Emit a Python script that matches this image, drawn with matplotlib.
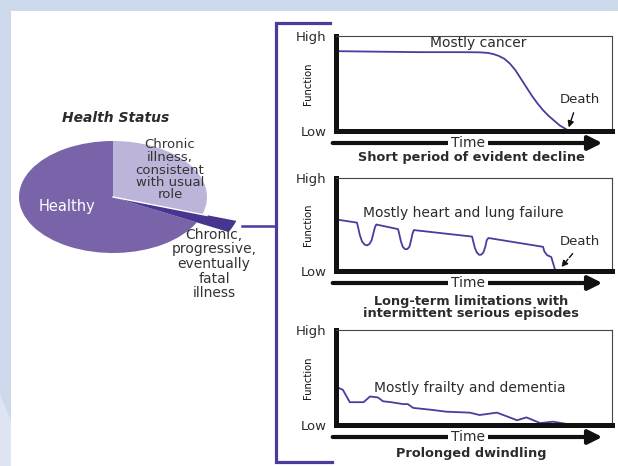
import matplotlib
matplotlib.use("Agg")
import matplotlib.pyplot as plt
from matplotlib.patches import Rectangle, Polygon
from matplotlib.lines import Line2D

W, H = 618, 466

# pie: share of the population by health status
pie_labels = ["Chronic\nillness,\nconsistent\nwith usual\nrole",
              "Chronic,\nprogressive,\neventually\nfatal\nillness",
              "Healthy"]
pie_values = [30.0, 2.5, 67.5]
pie_colors = ["#bdb4da", "#47358f", "#7964aa"]

# trajectory 1: short period of evident decline
cancer_t = [0.01, 0.15, 0.30, 0.45, 0.52, 0.55, 0.57, 0.59, 0.61, 0.63, 0.65, 0.67,
            0.69, 0.71, 0.73, 0.75, 0.77, 0.79, 0.81, 0.83, 0.845]
cancer_f = [0.84, 0.835, 0.83, 0.83, 0.828, 0.822, 0.81, 0.79, 0.76, 0.71, 0.64, 0.55,
            0.46, 0.37, 0.29, 0.22, 0.16, 0.11, 0.06, 0.025, 0.0]

# trajectory 2: long-term limitations with intermittent serious episodes
organ_t = [0.01, 0.076, 0.080, 0.086, 0.094, 0.103, 0.112, 0.121, 0.129, 0.135, 0.141, 0.146,
           0.225, 0.229, 0.235, 0.242, 0.250, 0.258, 0.266, 0.272, 0.277, 0.282,
           0.493, 0.497, 0.503, 0.510, 0.518, 0.526, 0.534, 0.541, 0.546, 0.552,
           0.75, 0.755, 0.765, 0.78, 0.785, 0.795]
organ_f = [0.55, 0.52, 0.47, 0.39, 0.32, 0.285, 0.275, 0.29, 0.33, 0.40, 0.47, 0.50,
           0.45, 0.40, 0.32, 0.26, 0.235, 0.235, 0.26, 0.33, 0.40, 0.44,
           0.37, 0.32, 0.25, 0.20, 0.175, 0.175, 0.20, 0.26, 0.33, 0.355,
           0.26, 0.21, 0.17, 0.15, 0.10, 0.0]

# trajectory 3: prolonged dwindling
frail_t = [0.01, 0.025, 0.05, 0.10, 0.123, 0.152, 0.17, 0.20, 0.243, 0.26, 0.28,
           0.345, 0.40, 0.485, 0.52, 0.583, 0.62, 0.656, 0.69, 0.74, 0.786, 0.86]
frail_f = [0.39, 0.37, 0.24, 0.24, 0.30, 0.29, 0.25, 0.24, 0.22, 0.22, 0.18,
           0.16, 0.14, 0.13, 0.105, 0.13, 0.09, 0.05, 0.08, 0.02, 0.035, 0.0]

PURPLE = "#4b3b9e"
TEXT = "#2b2b2b"


def fx(x):
    return x / W


def fy(y):
    return 1 - y / H


fig = plt.figure(figsize=(W / 100, H / 100), dpi=100)
fig.patch.set_facecolor("#cdd8ea")
fig.patches.append(Polygon([(0, 0), (fx(11), 0), (fx(11), fy(420)), (0, fy(395))],
                           closed=True, transform=fig.transFigure,
                           facecolor="#dde5f2", edgecolor="none", zorder=-10))
fig.patches.append(Rectangle((fx(11), 0), 1 - fx(11), fy(11), transform=fig.transFigure,
                             facecolor="white", edgecolor="none", zorder=-10))

# bracket joining the pie to the three trajectories
bx = fx(276)
fig.add_artist(Line2D([fx(330), bx, bx, fx(332)], [fy(23), fy(23), fy(462), fy(462)],
                      color=PURPLE, lw=2.3, solid_joinstyle="miter"))
fig.add_artist(Line2D([fx(242), bx], [fy(226), fy(226)], color=PURPLE, lw=1.8))

# pie (stretched horizontally)
cx, cy, rx, ry = 113, 197, 94, 56
pad = 1.45
pax = fig.add_axes([fx(cx - rx * pad), fy(cy + ry * pad), 2 * rx * pad / W, 2 * ry * pad / H])
wedges, _ = pax.pie(pie_values, colors=pie_colors, startangle=90, counterclock=False,
                    wedgeprops=dict(linewidth=0))
wedges[1].set_visible(False)
# the fatal-illness slice sticks out beyond the rest
sliver, _ = pax.pie(pie_values, colors=pie_colors, startangle=90, counterclock=False,
                    radius=1.38, wedgeprops=dict(linewidth=0))
for i, w in enumerate(sliver):
    if i != 1:
        w.set_visible(False)
pax.plot([0, 1.0], [0, -0.33], color="white", lw=1.0)
pax.set_aspect("auto")
pax.set_xlim(-pad, pad)
pax.set_ylim(-pad, pad)
pax.axis("off")

fig.text(fx(116), fy(118), "Health Status", ha="center", va="center",
         fontsize=10, fontweight="bold", fontstyle="italic", color=TEXT)
fig.text(fx(67), fy(206), pie_labels[2], ha="center", va="center", fontsize=10.5, color="white")
fig.text(fx(170), fy(170), pie_labels[0], ha="center", va="center",
         fontsize=9.5, color="#333333", linespacing=0.95)
fig.text(fx(214), fy(264), pie_labels[1],
         ha="center", va="center", fontsize=10, color="#333333", linespacing=1.05)


def panel(top, bottom, t, f, label, lab_xy, caption, cap_y, death_xy=None, death_tip=None, dashed=False):
    ax = fig.add_axes([fx(336), fy(bottom), (612 - 336) / W, (bottom - top) / H])
    ax.set_xlim(0, 1)
    ax.set_ylim(0, 1)
    ax.plot(t, f, color=PURPLE, lw=1.3, solid_capstyle="butt", clip_on=False)
    for s in ["left", "bottom"]:
        ax.spines[s].set_linewidth(3.6)
        ax.spines[s].set_color("#111111")
    for s in ["top", "right"]:
        ax.spines[s].set_linewidth(0.8)
        ax.spines[s].set_color("#444444")
    ax.set_xticks([])
    ax.set_yticks([0, 1], ["Low", "High"])
    ax.tick_params(axis="y", length=0, pad=7, labelsize=9.5, labelcolor=TEXT)
    ax.text(-0.1, 0.5, "Function", rotation=90, ha="center", va="center",
            fontsize=8, color="#111111", transform=ax.transAxes, fontstretch="condensed")
    ax.text(lab_xy[0], lab_xy[1], label, ha="center", va="center", fontsize=10, color=TEXT)
    if death_xy is not None:
        ax.text(death_xy[0], death_xy[1], "Death", ha="center", va="center", fontsize=9.5, color=TEXT)
        ax.annotate("", xy=death_tip, xytext=(death_xy[0] - 0.02, death_xy[1] - 0.11),
                    arrowprops=dict(arrowstyle="-|>", lw=1.0, color="#111111",
                                    linestyle="--" if dashed else "-", mutation_scale=9))
    # time axis arrow under the box; the label's white box sits under the spines
    ay = -12 / (bottom - top)
    ax.annotate("", xy=(0.965, ay), xytext=(-0.012, ay), xycoords="axes fraction",
                arrowprops=dict(arrowstyle="-|>,head_length=0.6,head_width=0.3",
                                lw=3.0, color="#111111", mutation_scale=14, shrinkA=0, shrinkB=0),
                annotation_clip=False, zorder=1)
    ax.text(0.478, ay, "Time", ha="center", va="center", fontsize=10, color=TEXT,
            transform=ax.transAxes, zorder=2,
            bbox=dict(boxstyle="square,pad=0.2", facecolor="white", edgecolor="none"))
    ax.text(0.49, cap_y, caption, ha="center", va="center", fontsize=9.3, fontweight="bold",
            color=TEXT, transform=ax.transAxes, linespacing=0.95)
    return ax


panel(36, 131, cancer_t, cancer_f, "Mostly cancer", (0.515, 0.93),
      "Short period of evident decline", -0.284,
      death_xy=(0.884, 0.33), death_tip=(0.84, 0.01))
panel(178, 271, organ_t, organ_f, "Mostly heart and lung failure", (0.46, 0.62),
      "Long-term limitations with\nintermittent serious episodes", -0.39,
      death_xy=(0.884, 0.32), death_tip=(0.81, 0.02), dashed=True)
panel(330, 425, frail_t, frail_f, "Mostly frailty and dementia", (0.485, 0.39),
      "Prolonged dwindling", -0.295)

fig.savefig("out.png", dpi=100, facecolor=fig.get_facecolor())
